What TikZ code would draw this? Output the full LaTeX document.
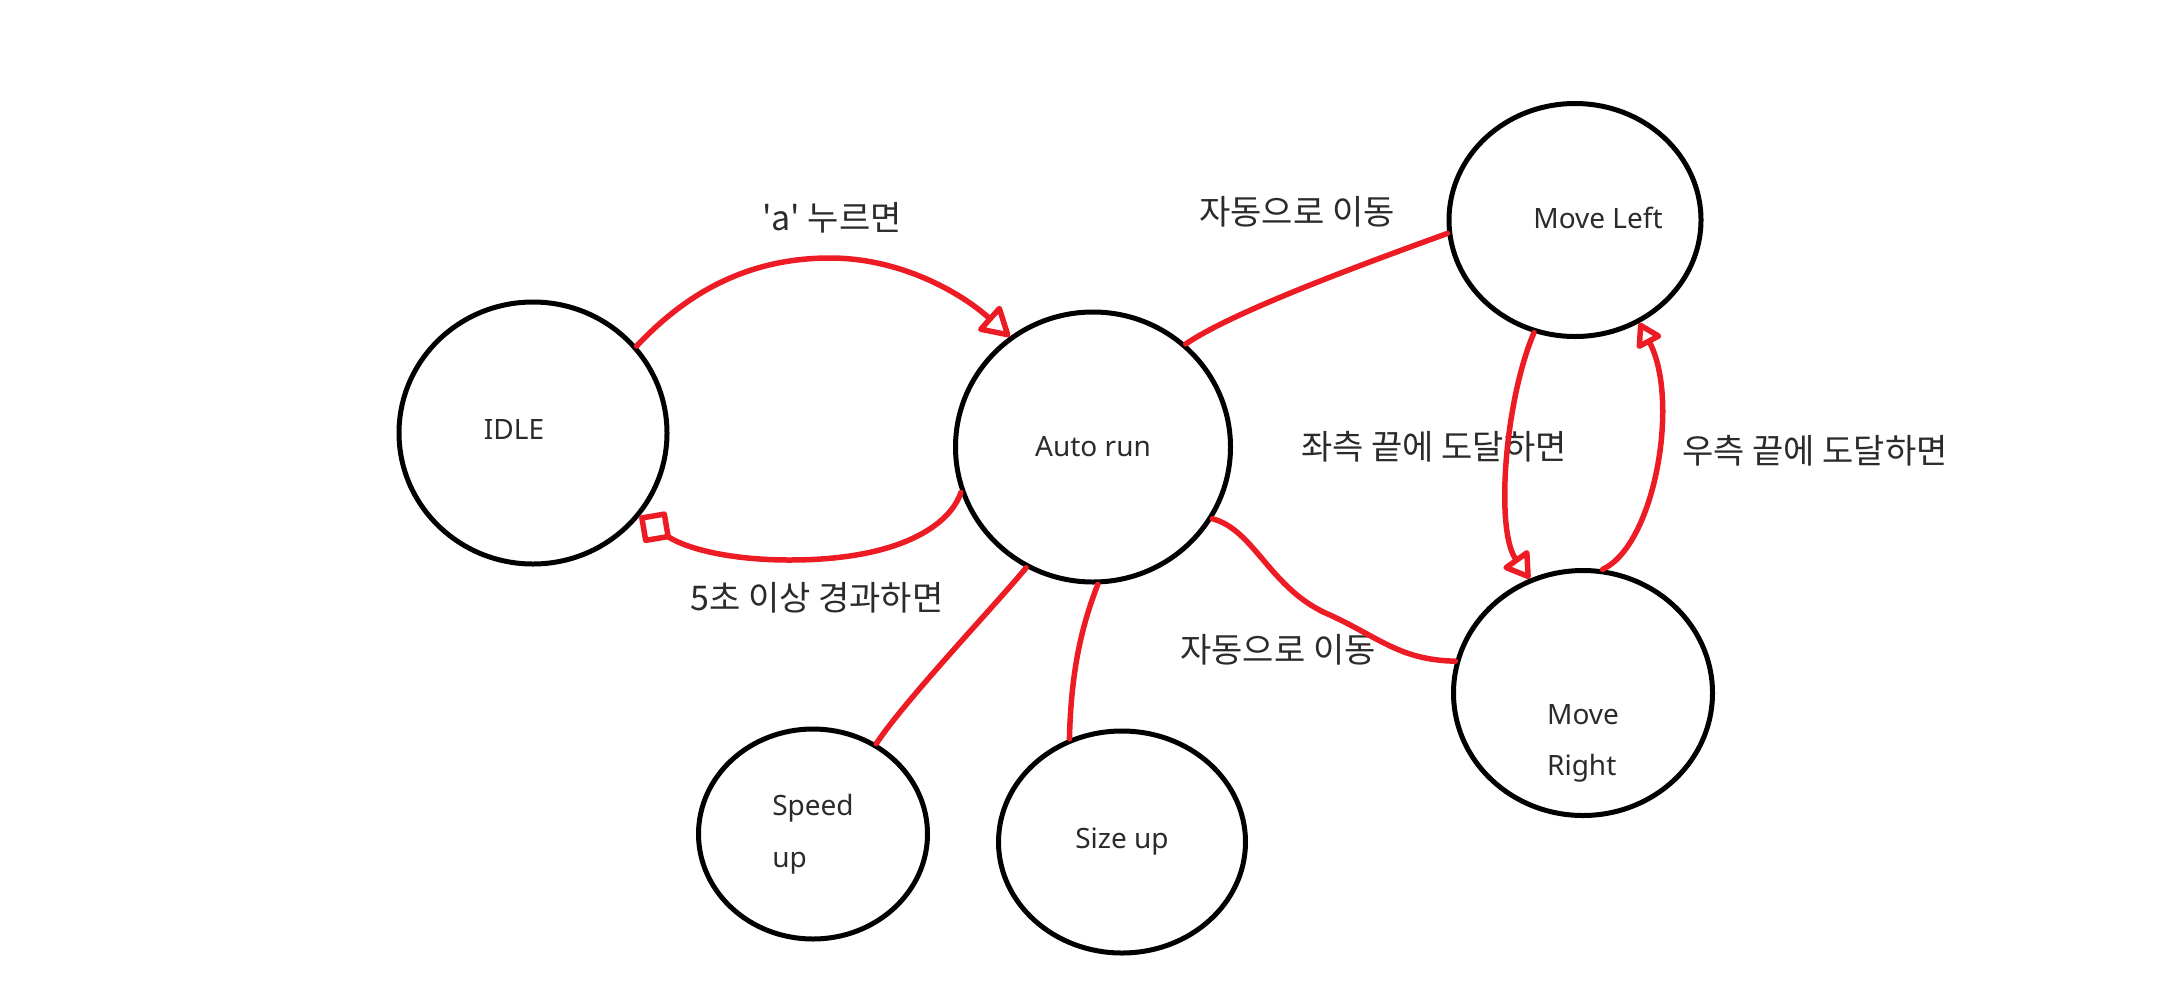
\documentclass[tikz,border=0pt]{standalone}
\usepackage{fontspec}
\setmainfont{Noto Sans}
\newfontfamily\krfont{Noto Sans CJK KR}
\usetikzlibrary{positioning, shapes.geometric, arrows.meta}
\definecolor{PaintRed}{HTML}{ED1C24}
\definecolor{InkGray}{HTML}{2B2B2B}

\tikzset{
  state/.style={ellipse, draw=black, line width=5pt, inner sep=0pt, align=left,
    font=\fontsize{28}{52}\selectfont, text=InkGray},
  statetext/.style={font=\fontsize{28}{51}\selectfont, text=InkGray, align=left},
  flow/.style={PaintRed, line width=5.5pt, line cap=round, line join=round},
  cond/.style={font=\krfont\fontsize{34}{40}\selectfont, text=InkGray},
}

\begin{document}
\begin{tikzpicture}[x=1pt, y=-1pt]
  \useasboundingbox (0,0) rectangle (2164,989);

  % states
  \node[state, minimum width=268pt, minimum height=262pt,
    label={[statetext, xshift=-19pt, yshift=4pt]center:IDLE}] (idle) at (533,433) {};
  \node[state, minimum width=275pt, minimum height=270pt] (auto) at (1093,447) {Auto run};
  \node[state, minimum width=252pt, minimum height=233pt,
    label={[statetext, xshift=23pt, yshift=2pt]center:Move Left}] (left) at (1575,220) {};
  \node[state, minimum width=259pt, minimum height=245pt,
    label={[statetext, yshift=-50pt]center:Move\\Right}] (right) at (1583,693) {};
  \node[state, minimum width=229pt, minimum height=210pt] (speed) at (813,834) {Speed\\up};
  \node[state, minimum width=247pt, minimum height=222pt] (size) at (1122,842) {Size up};

  % conditions
  \node[cond] (press) at (832,218) {\textquotesingle a\textquotesingle{} 누르면};
  \node[cond] (timeout) at (817,598) {5초 이상 경과하면};
  \node[cond] (autoup) at (1297,212) {자동으로 이동};
  \node[cond] (autodown) at (1278,650) {자동으로 이동};
  \node[cond] (leftend) at (1434,447) {좌측 끝에 도달하면};
  \node[cond] (rightend) at (1815,451) {우측 끝에 도달하면};

  % transitions
  \draw[flow, -{Triangle[open, round, length=32pt, width=36pt]}]
    (idle.40) .. controls (680,300) and (740,258) .. (830,258)
    .. controls (900,258) and (960,292) .. (auto.127);
  \draw[flow, -{Turned Square[open, round, length=40pt, width=40pt]}]
    (auto.199) .. controls (950,525) and (900,560) .. (790,560)
    .. controls (720,560) and (680,545) .. (idle.-38);
  \draw[flow] (auto.48) .. controls (1235,310) and (1380,258) .. (left.186);
  \draw[flow] (auto.-31) .. controls (1255,530) and (1270,590) .. (1330,615)
    .. controls (1380,638) and (1400,660) .. (right.166);
  \draw[flow, -{Triangle[open, round, length=28pt, width=34pt]}]
    (left.250) .. controls (1505,400) and (1495,530) .. (right.115);
  \draw[flow, -{Triangle[open, round, length=26pt, width=30pt]}]
    (right.81) .. controls (1655,545) and (1680,400) .. (left.302);
  \draw[flow] (auto.241) .. controls (1000,600) and (905,700) .. (speed.55);
  \draw[flow] (auto.272) .. controls (1082,625) and (1071,670) .. (size.117);
\end{tikzpicture}
\end{document}
